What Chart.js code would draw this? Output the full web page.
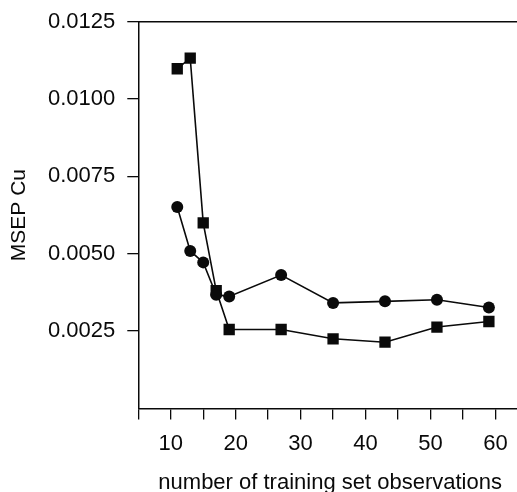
<!DOCTYPE html>
<html>
<head>
<meta charset="utf-8">
<script src="https://cdn.jsdelivr.net/npm/chart.js@4/dist/chart.umd.min.js"></script>
<style>
  html, body { margin: 0; padding: 0; background: #fff; overflow: hidden; }
  #c { display: block; }
</style>
</head>
<body>
<canvas id="c" width="522" height="492" style="width:522px;height:492px"></canvas>
<script>
// Training set size (number of observations)
const trainSize = [11, 13, 15, 17, 19, 27, 35, 43, 51, 59];
// MSEP for Cu, two model variants
const msepCircles = [0.00651, 0.00509, 0.00472, 0.00367, 0.00362, 0.00431, 0.00341, 0.00346, 0.00351, 0.00326];
const msepSquares = [0.01098, 0.01132, 0.00600, 0.00381, 0.00255, 0.00255, 0.00225, 0.00214, 0.00263, 0.00281];
// Axis tick values
const xTicks = [5, 10, 15, 20, 25, 30, 35, 40, 45, 50, 55, 60];
const xLabelled = [10, 20, 30, 40, 50, 60];
const yTicks = [0.0025, 0.0050, 0.0075, 0.0100, 0.0125];

const INK = '#0a0a0a';
Chart.defaults.font.family = '"Liberation Sans", Arial, Helvetica, sans-serif';
Chart.defaults.color = INK;

const toPoints = (ys) => trainSize.map((x, i) => ({ x, y: ys[i] }));

new Chart(document.getElementById('c'), {
  type: 'line',
  data: {
    datasets: [
      {
        data: toPoints(msepCircles),
        borderColor: INK,
        backgroundColor: INK,
        borderWidth: 1.6,
        pointStyle: 'circle',
        pointRadius: 6,
        pointBorderWidth: 0,
        tension: 0
      },
      {
        data: toPoints(msepSquares),
        borderColor: INK,
        backgroundColor: INK,
        borderWidth: 1.6,
        pointStyle: 'rect',
        pointRadius: 8,
        pointBorderWidth: 0,
        tension: 0
      }
    ]
  },
  options: {
    responsive: false,
    animation: false,
    devicePixelRatio: 1,
    // the plot runs on past the right edge; margins are set by hand
    layout: { autoPadding: false, padding: { left: 2, right: 0, top: 21.7, bottom: 0 } },
    plugins: { legend: { display: false }, tooltip: { enabled: false } },
    scales: {
      x: {
        type: 'linear',
        position: 'bottom',
        min: 5,
        max: 64.1,
        afterBuildTicks: (s) => { s.ticks = xTicks.map(v => ({ value: v })); },
        ticks: {
          autoSkip: false,
          maxRotation: 0,
          padding: 14,
          font: { size: 22, lineHeight: 1.0 },
          color: INK,
          callback: (v) => (xLabelled.includes(v) ? String(v) : '')
        },
        grid: {
          display: true,
          drawOnChartArea: false,
          drawTicks: true,
          tickLength: 11,
          color: INK,
          lineWidth: 1.3
        },
        border: { display: true, color: INK, width: 1.5 },
        title: {
          display: true,
          text: 'number of training set observations',
          font: { size: 22, lineHeight: 0.8 },
          color: INK,
          padding: { top: 5, bottom: 0 }
        }
      },
      xTop: {
        type: 'linear',
        position: 'top',
        min: 5,
        max: 64.1,
        ticks: { display: false },
        grid: { display: false, drawTicks: false },
        border: { display: true, color: INK, width: 1.5 }
      },
      y: {
        type: 'linear',
        position: 'left',
        min: 0,
        max: 0.0125,
        afterBuildTicks: (s) => { s.ticks = yTicks.map(v => ({ value: v })); },
        ticks: {
          padding: 12,
          font: { size: 22, lineHeight: 0.8 },
          color: INK,
          callback: (v) => Number(v).toFixed(4)
        },
        grid: {
          display: true,
          drawOnChartArea: false,
          drawTicks: true,
          tickLength: 11,
          color: INK,
          lineWidth: 1.3
        },
        border: { display: true, color: INK, width: 1.5 },
        title: {
          display: true,
          text: 'MSEP Cu',
          font: { size: 21 },
          color: INK,
          padding: { top: 4.4, bottom: 4.4 }
        }
      }
    }
  }
});
</script>
</body>
</html>
